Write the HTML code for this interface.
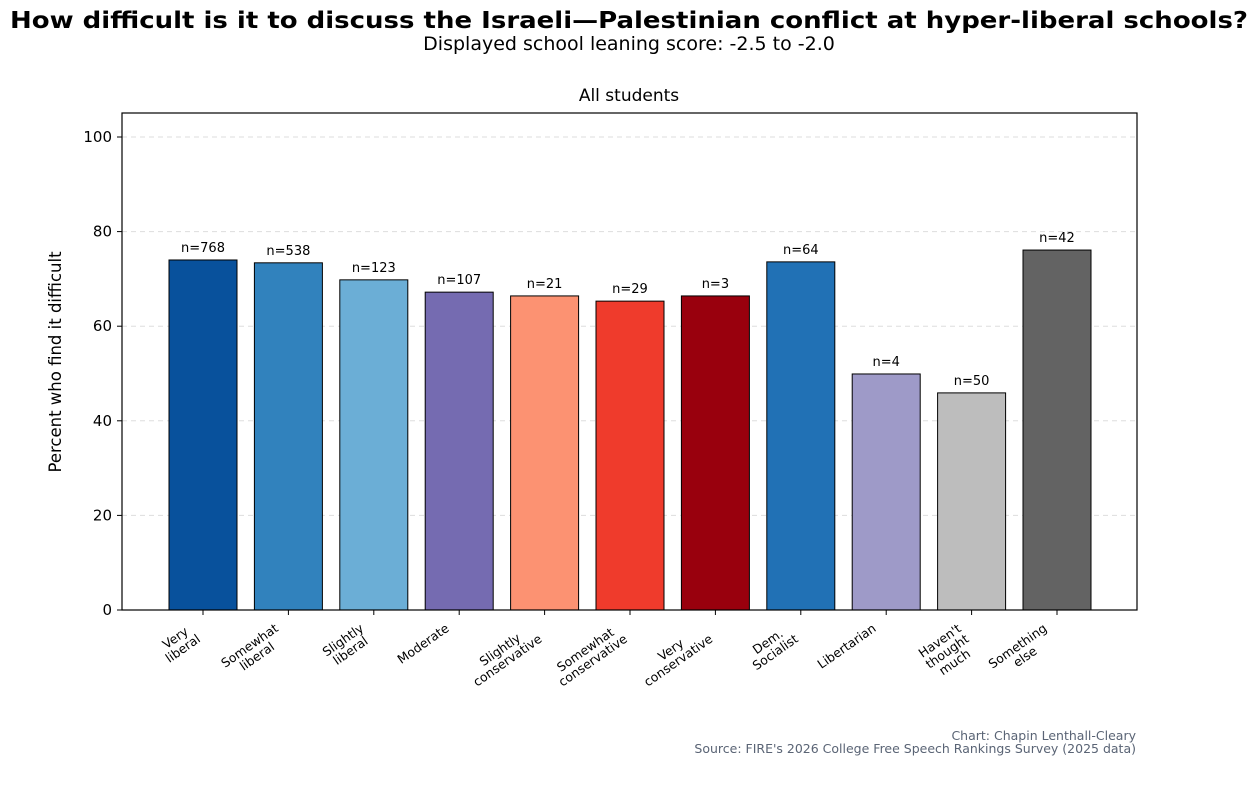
<!DOCTYPE html>
<html><head><meta charset="utf-8">
<style>
body{margin:0;background:#fff;width:1258px;height:780px;overflow:hidden;font-family:"Liberation Sans","DejaVu Sans",sans-serif;}
svg text{font-family:"DejaVu Sans","Liberation Sans",sans-serif;}
</style></head>
<body>
<svg width="1258" height="780" xmlns="http://www.w3.org/2000/svg">
<text x="629" y="28" text-anchor="middle" font-size="23.5" font-weight="bold" fill="#000" textLength="1238" lengthAdjust="spacingAndGlyphs">How difficult is it to discuss the Israeli—Palestinian conflict at hyper-liberal schools?</text>
<text x="629" y="50" text-anchor="middle" font-size="19" fill="#000">Displayed school leaning score: -2.5 to -2.0</text>
<text x="629" y="101" text-anchor="middle" font-size="17" fill="#000">All students</text>
<g id="grid"></g>
<g id="bars"></g>
<rect x="122" y="113" width="1015" height="497" fill="none" stroke="#000" stroke-width="1.2"/>
<g id="yaxis"></g>
<g id="xaxis"></g>
<text transform="translate(61,362) rotate(-90)" text-anchor="middle" font-size="16.5" fill="#000">Percent who find it difficult</text>
<text x="1136" y="740" text-anchor="end" font-size="12.5" fill="#5a6475">Chart: Chapin Lenthall-Cleary</text>
<text x="1136" y="753" text-anchor="end" font-size="12.5" fill="#5a6475">Source: FIRE's 2026 College Free Speech Rankings Survey (2025 data)</text>
</svg>
<script>
const categories=[["Very","liberal"],["Somewhat","liberal"],["Slightly","liberal"],["Moderate"],["Slightly","conservative"],["Somewhat","conservative"],["Very","conservative"],["Dem.","Socialist"],["Libertarian"],["Haven't","thought","much"],["Something","else"]];
const values=[74.0,73.4,69.8,67.2,66.4,65.3,66.4,73.6,49.9,45.9,76.1];
const counts=["n=768","n=538","n=123","n=107","n=21","n=29","n=3","n=64","n=4","n=50","n=42"];
const colors=["#08519c","#3182bd","#6baed6","#756bb1","#fc9272","#ef3b2c","#99000d","#2171b5","#9e9ac8","#bdbdbd","#636363"];
const yTicks=[0,20,40,60,80,100];
const NS="http://www.w3.org/2000/svg";
const y=v=>610-v*4.73;
const x=i=>203+i*85.4;
const bw=68;
function mk(t,a,p){const e=document.createElementNS(NS,t);for(const k in a)e.setAttribute(k,a[k]);p.appendChild(e);return e;}
const grid=document.getElementById('grid'),ya=document.getElementById('yaxis'),bars=document.getElementById('bars'),xa=document.getElementById('xaxis');
yTicks.forEach(t=>{
  const g=mk('line',{x1:122,x2:1137,y1:y(t),y2:y(t),stroke:'#ddd','stroke-dasharray':'5,4','stroke-width':1},grid);
  
  
  mk('line',{x1:117,x2:122,y1:y(t),y2:y(t),stroke:'#000'},ya);
  const l=mk('text',{x:112,y:y(t)+5,'text-anchor':'end','font-size':15,fill:'#000'},ya);
  l.textContent=t;
  
  
});
values.forEach((v,i)=>{
  const r=mk('rect',{x:x(i)-bw/2,y:y(v),width:bw,height:610-y(v),fill:colors[i],stroke:'#000','stroke-width':1},bars);
  
  
  const n=mk('text',{x:x(i),y:y(v)-8,'text-anchor':'middle','font-size':13,fill:'#000'},bars);
  n.textContent=counts[i];
  
  
  mk('line',{x1:x(i),x2:x(i),y1:610,y2:615,stroke:'#000'},xa);
  const g=mk('g',{transform:`translate(${x(i)-15},${622}) rotate(-35)`},xa);
  
  
  const lines=categories[i];
  lines.forEach((s,j)=>{
    const t=mk('text',{x:0,y:10+j*13,'text-anchor':'end','font-size':12.5,fill:'#000'},g);
    t.textContent=s;
  });
  const texts=g.querySelectorAll('text');
  let maxw=0;texts.forEach(t=>maxw=Math.max(maxw,t.getComputedTextLength()));
  texts.forEach(t=>{const w=t.getComputedTextLength();t.setAttribute('x',-(maxw-w)/2);});
});
</script>
</body></html>
